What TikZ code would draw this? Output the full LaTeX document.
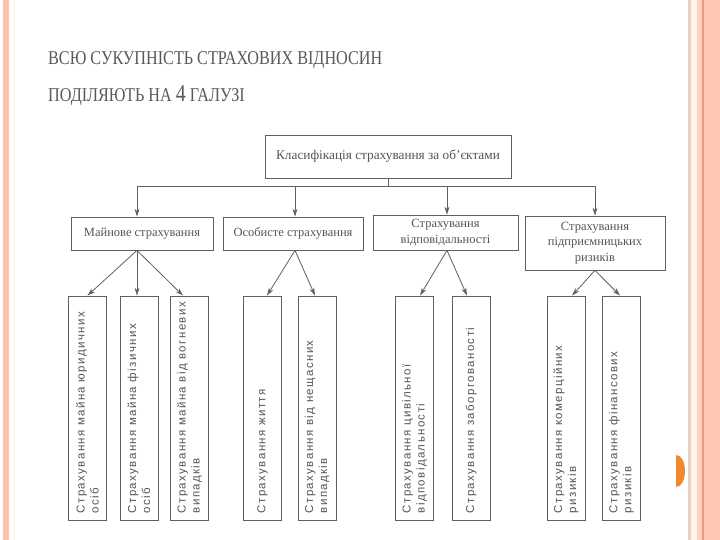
\documentclass[tikz,border=0pt]{standalone}
\usepackage{fontspec}
\setmainfont{Liberation Serif}
\newfontfamily\titlefont[FakeStretch=0.83]{Liberation Serif}
\newfontfamily\vfont[LetterSpace=12]{Liberation Sans}
\usetikzlibrary{arrows.meta,calc}
\definecolor{ink}{HTML}{555555}
\definecolor{titlegray}{HTML}{595959}
\definecolor{linegray}{HTML}{606060}
\definecolor{pinkL}{HTML}{FBC3AE}
\definecolor{pinkR}{HTML}{FFC6B4}
\definecolor{pinkM}{HTML}{FAD2C4}
\definecolor{redline}{HTML}{EE9A80}
\definecolor{tanline}{HTML}{E6CFC4}
\definecolor{cream}{HTML}{FFF6EA}
\definecolor{dotorange}{HTML}{F08A2C}
\tikzset{
  hbox/.style={draw=linegray, line width=0.8pt, inner sep=1pt, align=center,
    text=ink, font=\fontsize{12.5}{15.5}\selectfont},
  vbox/.style={draw=linegray, line width=0.8pt, inner sep=0pt,
    minimum width=38pt, minimum height=224pt},
  vtext/.style={rotate=90, anchor=west, align=left, inner sep=0pt, text=ink,
    font=\vfont\fontsize{11.5}{14}\selectfont},
  conn/.style={draw=linegray, line width=0.8pt},
  arr/.style={conn, -{Stealth[length=8pt,width=5pt]}},
}
\begin{document}
\begin{tikzpicture}[x=1pt,y=-1pt]
\useasboundingbox (0,0) rectangle (720,540);
\fill[white] (0,0) rectangle (720,540);
% page decoration
\fill[pinkL] (3,0) rectangle (9,540);
\fill[cream] (13,0) rectangle (15,540);
\fill[tanline] (688,0) rectangle (691,540);
\fill[cream] (691,0) rectangle (697,540);
\fill[pinkM] (697,0) rectangle (702,540);
\fill[redline] (702,0) rectangle (703.5,540);
\fill[pinkR] (703.5,0) rectangle (720,540);
\fill[dotorange] (676,455) .. controls (688,455) and (688,487) .. (676,487) -- cycle;
% title
\node[anchor=base west, inner sep=0pt, text=titlegray,
  font=\titlefont\fontsize{19.5}{20}\selectfont] (t1) at (48,65)
  {ВСЮ СУКУПНІСТЬ СТРАХОВИХ ВІДНОСИН};
\node[anchor=base west, inner sep=0pt, text=titlegray,
  font=\titlefont\fontsize{19.5}{20}\selectfont] (t2) at (48,102)
  {ПОДІЛЯЮТЬ НА {\fontsize{24}{24}\selectfont 4} ГАЛУЗІ};
% top box
\node[hbox, minimum width=246pt, minimum height=43pt, font=\fontsize{13.3}{15}\selectfont] (top) at (388,156.5)
  {Класифікація страхування за об’єктами};
% level 2
\node[hbox, minimum width=142pt, minimum height=33pt] (b1) at (142,233.5) {Майнове страхування};
\node[hbox, minimum width=140pt, minimum height=33pt] (b2) at (293,233.5) {Особисте страхування};
\node[hbox, minimum width=145pt, minimum height=35pt] (b3) at (445.5,232.5) {Страхування\\відповідальності};
\node[hbox, minimum width=140pt, minimum height=54pt] (b4) at (595,243) {Страхування\\підприємницьких\\ризиків};
% bus
\coordinate (hc) at (388,186);
\coordinate (h1) at (137,186);
\coordinate (h2) at (295,186);
\coordinate (h3) at (447,186);
\coordinate (h4) at (595,186);
\draw[conn] (top.south) -- (hc);
\draw[conn] (h1) -- (h4);
\draw[arr] (h1) -- (h1 |- b1.north);
\draw[arr] (h2) -- (h2 |- b2.north);
\draw[arr] (h3) -- (h3 |- b3.north);
\draw[arr] (h4) -- (h4 |- b4.north);
% level 3
\node[vbox] (v1) at (87.5,408) {};
\node[vbox] (v2) at (139,408) {};
\node[vbox] (v3) at (189.5,408) {};
\node[vbox] (v4) at (262.5,408) {};
\node[vbox] (v5) at (317,408) {};
\node[vbox] (v6) at (414.5,408) {};
\node[vbox] (v7) at (471,408) {};
\node[vbox] (v8) at (566,408) {};
\node[vbox] (v9) at (621.5,408) {};
\node[vtext] (l1) at ($(v1.south)+(0,-7)$) {Страхування майна юридичних\\осіб};
\node[vtext] (l2) at ($(v2.south)+(0,-7)$) {Страхування майна фізичних\\осіб};
\node[vtext] (l3) at ($(v3.south)+(0,-7)$) {Страхування майна від вогневих\\випадків};
\node[vtext] (l4) at ($(v4.south)+(0,-7)$) {Страхування життя};
\node[vtext] (l5) at ($(v5.south)+(0,-7)$) {Страхування від нещасних\\випадків};
\node[vtext] (l6) at ($(v6.south)+(0,-7)$) {Страхування цивільної\\відповідальності};
\node[vtext] (l7) at ($(v7.south)+(0,-7)$) {Страхування заборгованості};
\node[vtext] (l8) at ($(v8.south)+(0,-7)$) {Страхування комерційних\\ризиків};
\node[vtext] (l9) at ($(v9.south)+(0,-7)$) {Страхування фінансових\\ризиків};
% connectors level 2 -> 3
\coordinate (s1) at (h1 |- b1.south);
\coordinate (s2) at (h2 |- b2.south);
\coordinate (s3) at (h3 |- b3.south);
\coordinate (s4) at (h4 |- b4.south);
\draw[arr] (s1) -- (v1.north);
\draw[arr] (s1) -- (s1 |- v2.north);
\draw[arr] (s1) -- ([xshift=-6.5pt]v3.north);
\draw[arr] (s2) -- ([xshift=4.5pt]v4.north);
\draw[arr] (s2) -- ([xshift=-2pt]v5.north);
\draw[arr] (s3) -- ([xshift=5.5pt]v6.north);
\draw[arr] (s3) -- ([xshift=-4pt]v7.north);
\draw[arr] (s4) -- ([xshift=6pt]v8.north);
\draw[arr] (s4) -- ([xshift=-1.5pt]v9.north);
\end{tikzpicture}
\end{document}
